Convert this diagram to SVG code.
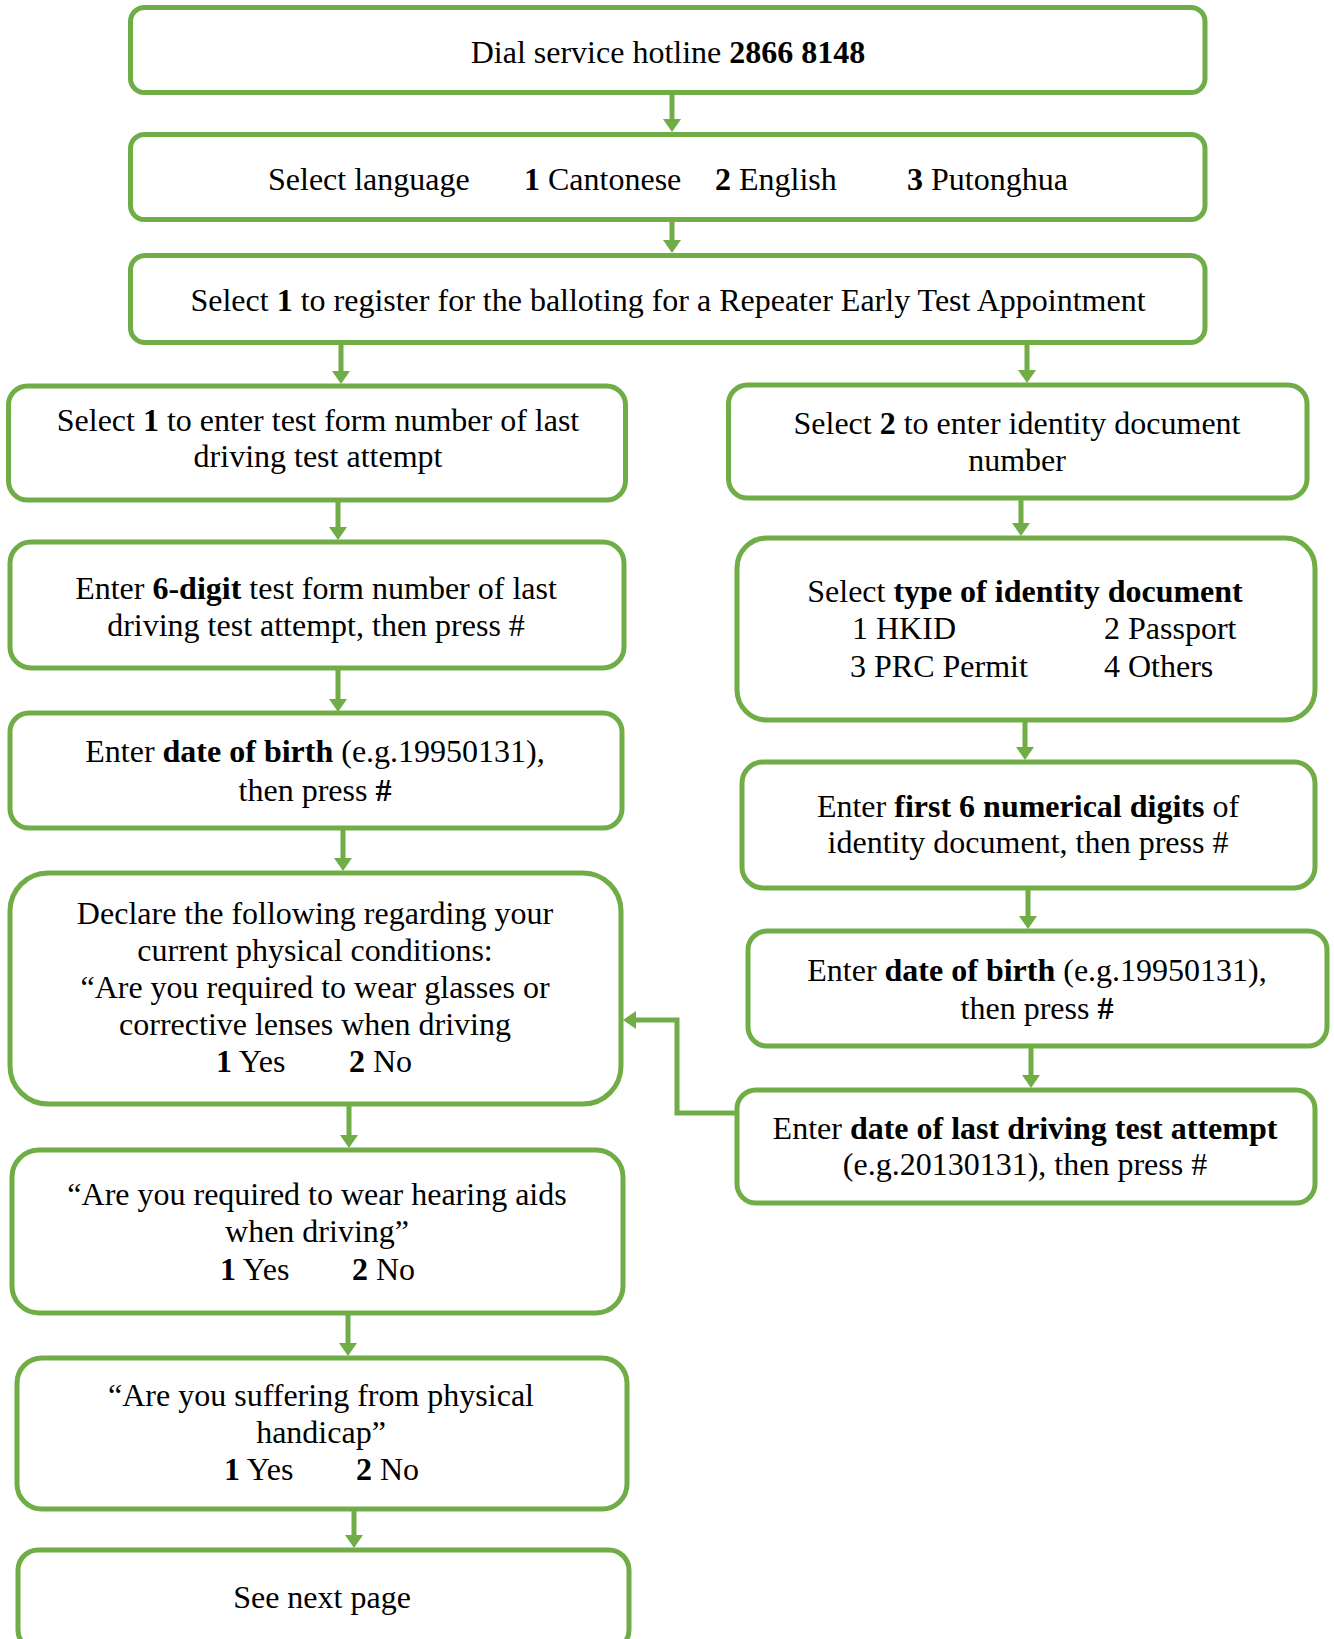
<svg xmlns="http://www.w3.org/2000/svg" width="1334" height="1639" viewBox="0 0 1334 1639">
<style>
.box{fill:#fff;stroke:#70AD47;stroke-width:5}
.conn{fill:none;stroke:#70AD47;stroke-width:5}
text{font-family:"Liberation Serif","Times New Roman",serif;font-size:32px;fill:#000}
.c{text-anchor:middle}
.b{font-weight:bold}
</style>
<defs>
<marker id="ah" viewBox="0 0 13 18" refX="2" refY="9" markerWidth="13" markerHeight="18" markerUnits="userSpaceOnUse" orient="auto">
<path d="M0,0 L13,9 L0,18 z" fill="#70AD47"/>
</marker>
</defs>
<rect width="1334" height="1639" fill="#fff"/>
<g id="connectors">
<line class="conn" x1="672" y1="95" x2="672" y2="121" marker-end="url(#ah)"/>
<line class="conn" x1="672" y1="222" x2="672" y2="242" marker-end="url(#ah)"/>
<line class="conn" x1="341" y1="345" x2="341" y2="373" marker-end="url(#ah)"/>
<line class="conn" x1="1027" y1="345" x2="1027" y2="372" marker-end="url(#ah)"/>
<line class="conn" x1="338" y1="502" x2="338" y2="529" marker-end="url(#ah)"/>
<line class="conn" x1="1021" y1="500" x2="1021" y2="525" marker-end="url(#ah)"/>
<line class="conn" x1="338" y1="670" x2="338" y2="701" marker-end="url(#ah)"/>
<line class="conn" x1="1025" y1="722" x2="1025" y2="749" marker-end="url(#ah)"/>
<line class="conn" x1="343" y1="830" x2="343" y2="860" marker-end="url(#ah)"/>
<line class="conn" x1="1028" y1="890" x2="1028" y2="918" marker-end="url(#ah)"/>
<line class="conn" x1="349" y1="1106" x2="349" y2="1137" marker-end="url(#ah)"/>
<line class="conn" x1="1031" y1="1048" x2="1031" y2="1077" marker-end="url(#ah)"/>
<line class="conn" x1="348" y1="1315" x2="348" y2="1345" marker-end="url(#ah)"/>
<line class="conn" x1="354" y1="1510" x2="354" y2="1537" marker-end="url(#ah)"/>
<polyline class="conn" points="735,1113 677,1113 677,1020 634,1020" marker-end="url(#ah)"/>
</g>
<g id="n1">
<rect class="box" x="130.5" y="7.5" width="1074.5" height="85" rx="14"/>
<text class="c" x="668" y="63">Dial service hotline <tspan class="b">2866 8148</tspan></text>
</g>
<g id="n2">
<rect class="box" x="130.5" y="134.5" width="1074.5" height="85" rx="14"/>
<text x="268" y="190">Select language</text>
<text x="524" y="190"><tspan class="b">1</tspan> Cantonese</text>
<text x="715" y="190"><tspan class="b">2</tspan> English</text>
<text x="907" y="190"><tspan class="b">3</tspan> Putonghua</text>
</g>
<g id="n3">
<rect class="box" x="130.5" y="255.5" width="1074.5" height="87" rx="14.5"/>
<text class="c" x="668" y="311">Select <tspan class="b">1</tspan> to register for the balloting for a Repeater Early Test Appointment</text>
</g>
<g id="n4">
<rect class="box" x="8.5" y="386" width="617" height="114" rx="19"/>
<text class="c" x="318" y="431">Select <tspan class="b">1</tspan> to enter test form number of last</text>
<text class="c" x="318" y="467">driving test attempt</text>
</g>
<g id="n5">
<rect class="box" x="728.5" y="385" width="578.5" height="113" rx="19"/>
<text class="c" x="1017" y="434">Select <tspan class="b">2</tspan> to enter identity document</text>
<text class="c" x="1017" y="471">number</text>
</g>
<g id="n6">
<rect class="box" x="10" y="542" width="614" height="126" rx="21"/>
<text class="c" x="316" y="599">Enter <tspan class="b">6-digit</tspan> test form number of last</text>
<text class="c" x="316" y="636">driving test attempt, then press #</text>
</g>
<g id="n7">
<rect class="box" x="737" y="538" width="578" height="182" rx="30"/>
<text class="c" x="1025" y="602">Select <tspan class="b">type of identity document</tspan></text>
<text x="852" y="639">1 HKID</text>
<text x="1104" y="639">2 Passport</text>
<text x="850" y="677">3 PRC Permit</text>
<text x="1104" y="677">4 Others</text>
</g>
<g id="n8">
<rect class="box" x="10" y="713" width="612" height="115" rx="19"/>
<text class="c" x="315" y="762">Enter <tspan class="b">date of birth</tspan> (e.g.19950131),</text>
<text class="c" x="315" y="801">then press <tspan class="b">#</tspan></text>
</g>
<g id="n9">
<rect class="box" x="742" y="762" width="573" height="126" rx="21"/>
<text class="c" x="1028" y="817">Enter <tspan class="b">first 6 numerical digits</tspan> of</text>
<text class="c" x="1028" y="853">identity document, then press #</text>
</g>
<g id="n10">
<rect class="box" x="10" y="873" width="611" height="231" rx="38"/>
<text class="c" x="315" y="924">Declare the following regarding your</text>
<text class="c" x="315" y="961">current physical conditions:</text>
<text class="c" x="315" y="998">“Are you required to wear glasses or</text>
<text class="c" x="315" y="1035">corrective lenses when driving</text>
<text x="216" y="1072"><tspan class="b">1</tspan> Yes</text>
<text x="349" y="1072"><tspan class="b">2</tspan> No</text>
</g>
<g id="n11">
<rect class="box" x="748" y="931" width="579" height="115" rx="19"/>
<text class="c" x="1037" y="981">Enter <tspan class="b">date of birth</tspan> (e.g.19950131),</text>
<text class="c" x="1037" y="1019">then press <tspan class="b">#</tspan></text>
</g>
<g id="n12">
<rect class="box" x="737" y="1090" width="578" height="113" rx="19"/>
<text class="c" x="1025" y="1139">Enter <tspan class="b">date of last driving test attempt</tspan></text>
<text class="c" x="1025" y="1175">(e.g.20130131), then press #</text>
</g>
<g id="n13">
<rect class="box" x="12" y="1150" width="611" height="163" rx="27"/>
<text class="c" x="317" y="1205">“Are you required to wear hearing aids</text>
<text class="c" x="317" y="1242">when driving”</text>
<text x="220" y="1280"><tspan class="b">1</tspan> Yes</text>
<text x="352" y="1280"><tspan class="b">2</tspan> No</text>
</g>
<g id="n14">
<rect class="box" x="17" y="1358" width="610" height="151" rx="25"/>
<text class="c" x="321" y="1406">“Are you suffering from physical</text>
<text class="c" x="321" y="1443">handicap”</text>
<text x="224" y="1480"><tspan class="b">1</tspan> Yes</text>
<text x="356" y="1480"><tspan class="b">2</tspan> No</text>
</g>
<g id="n15">
<rect class="box" x="18" y="1550" width="611" height="100" rx="20"/>
<text class="c" x="322" y="1608">See next page</text>
</g>
</svg>
